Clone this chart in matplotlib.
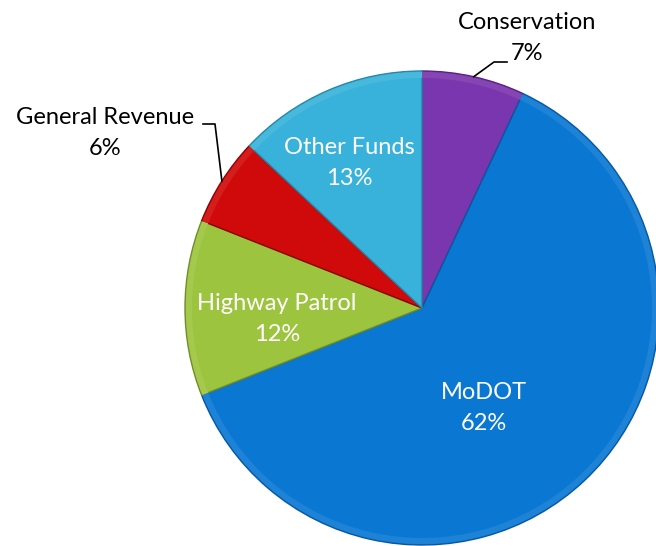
import numpy as np
import matplotlib
matplotlib.use("Agg")
import matplotlib.pyplot as plt

# data
names = ["Conservation", "MoDOT", "Highway Patrol", "General Revenue", "Other Funds"]
shares = [7, 62, 12, 6, 13]
colors = ["#7A36AE", "#0A78D2", "#9CC43E", "#D00A0A", "#38B2DA"]
edge_colors = ["#5A2088", "#0858A0", "#6E8E28", "#8E0404", "#2388AA"]

W, H = 656, 546
cx, cy, R = 422, H - 308, 237

plt.rcParams["font.family"] = ["Lato", "DejaVu Sans"]

fig = plt.figure(figsize=(W / 100, H / 100), dpi=100)
ax = fig.add_axes([0, 0, 1, 1])


def lighten(c, f):
    rgb = np.array(matplotlib.colors.to_rgb(c))
    return tuple(rgb + (1 - rgb) * f)


# base pie
wedges, _ = ax.pie(shares, colors=colors, startangle=90, counterclock=False,
                   center=(cx, cy), radius=R, frame=True,
                   wedgeprops=dict(linewidth=1.0))
for w, ec in zip(wedges, edge_colors):
    w.set_edgecolor(ec)

# soft bevel: slightly lighter outer rim
ax.pie(shares, colors=[lighten(c, 0.08) for c in colors], startangle=90,
       counterclock=False, center=(cx, cy), radius=R - 1, frame=True,
       wedgeprops=dict(width=6, linewidth=0))

ax.set_xlim(0, W)
ax.set_ylim(0, H)
ax.set_aspect("equal")
ax.axis("off")

# label positions (image px), white ones inside, black ones outside
inside = {
    "MoDOT": (484, 408),
    "Highway Patrol": (277, 319),
    "Other Funds": (349, 163),
}
outside = {
    "Conservation": (527, 38),
    "General Revenue": (105, 133),
}
for name, val in zip(names, shares):
    txt = f"{name}\n{val}%"
    if name in inside:
        x, y = inside[name]
        col = "white"
    else:
        x, y = outside[name]
        col = "black"
    ax.text(x, H - y, txt, color=col, fontsize=17, ha="center", va="center",
            linespacing=1.55)

# leader lines from the wedge middle
ang = 90.0
mids = []
for val in shares:
    span = val / sum(shares) * 360
    mids.append(ang - span / 2)
    ang -= span

for name, mid in zip(names, mids):
    px = cx + R * np.cos(np.radians(mid))
    py = cy + R * np.sin(np.radians(mid))
    if name == "Conservation":
        ax.plot([px, 494, 507], [py, H - 62, H - 62], color="black", lw=1.2)
    elif name == "General Revenue":
        ax.plot([px, 215, 203], [py, H - 124, H - 124], color="black", lw=1.2)

fig.savefig("out.png", dpi=100, facecolor="white")
